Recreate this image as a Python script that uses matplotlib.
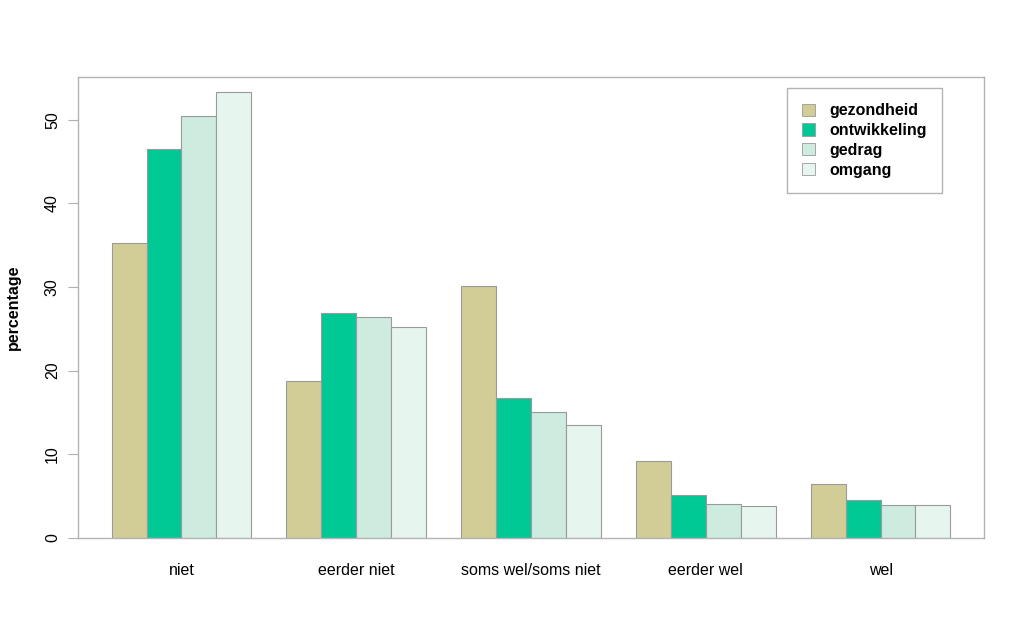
import numpy as np
import matplotlib.pyplot as plt
from matplotlib.patches import Patch

plt.rcParams['font.family'] = ['Liberation Sans', 'DejaVu Sans']

categories = ['niet', 'eerder niet', 'soms wel/soms niet', 'eerder wel', 'wel']
series = ['gezondheid', 'ontwikkeling', 'gedrag', 'omgang']
gezondheid = [35.3, 18.8, 30.1, 9.2, 6.5]
ontwikkeling = [46.5, 26.9, 16.7, 5.1, 4.5]
gedrag = [50.4, 26.4, 15.1, 4.1, 3.9]
omgang = [53.3, 25.2, 13.5, 3.8, 3.9]
colors = ['#D2CD96', '#00C995', '#CDEBDF', '#E6F5EE']

values = [gezondheid, ontwikkeling, gedrag, omgang]

fig = plt.figure(figsize=(10.24, 6.36), dpi=100)
ax = fig.add_axes([78 / 1024, 98 / 636, 906 / 1024, 461 / 636])

# R-style barplot: groups of 4 bars with one bar-width gap before each group
for j, (vals, col) in enumerate(zip(values, colors)):
    for i, v in enumerate(vals):
        left = 1 + 5 * i + j
        ax.bar(left, v, width=1, align='edge', color=col,
               edgecolor='#9a9a9a', linewidth=0.8)

ax.set_xlim(0.04, 25.96)
ax.set_ylim(0, 55.1)

ax.set_xticks([3 + 5 * i for i in range(5)])
ax.set_xticklabels(categories, fontsize=11.5)
ax.tick_params(axis='x', length=0, pad=18)

ax.set_yticks(range(0, 51, 10))
ax.tick_params(axis='y', length=7, color='#b0b0b0', labelsize=11.5, pad=6)
plt.setp(ax.get_yticklabels(), rotation=90, va='center')

for s in ax.spines.values():
    s.set_color('#b3b3b3')
    s.set_linewidth(1)

ax.set_ylabel('percentage', fontsize=11.5, fontweight='bold', labelpad=17)

handles = [Patch(facecolor=c, edgecolor='#9a9a9a', linewidth=0.6) for c in colors]
leg = ax.legend(handles, series, loc='upper left', bbox_to_anchor=(0.7826, 0.976),
                fancybox=False, framealpha=1, edgecolor='#b3b3b3',
                prop={'weight': 'bold', 'size': 11.5}, handlelength=0.8,
                handleheight=0.8, handletextpad=0.9, labelspacing=0.3,
                borderpad=0.95, borderaxespad=0)
leg.get_frame().set_linewidth(1)

fig.savefig('out.png', dpi=100)
